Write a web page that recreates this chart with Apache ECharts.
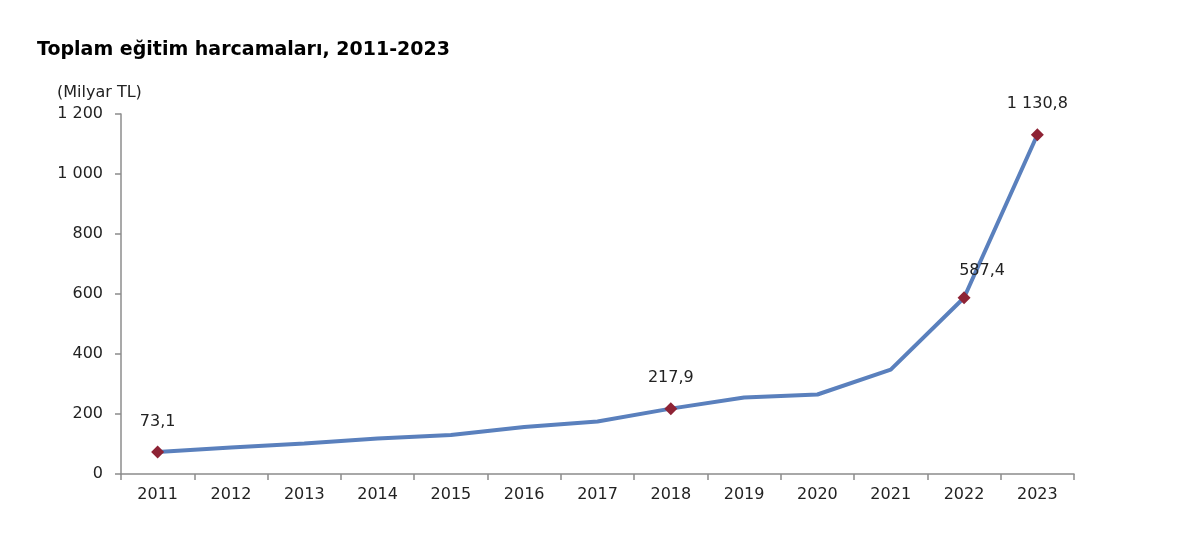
<!DOCTYPE html>
<html>
<head>
<meta charset="utf-8">
<script src="https://cdn.jsdelivr.net/npm/echarts@6/dist/echarts.min.js"></script>
<style>html,body{margin:0;padding:0;background:#fff}#c{width:1200px;height:534px}</style>
</head>
<body>
<div id="c"></div>
<script>
var titleText = 'Toplam eğitim harcamaları, 2011-2023';
var unitText = '(Milyar TL)';
var years = ['2011','2012','2013','2014','2015','2016','2017','2018','2019','2020','2021','2022','2023'];
var values = [73.1, 88, 102, 118, 130, 157, 175, 217.9, 255, 265, 348, 587.4, 1130.8];
var labeledYears = ['2011','2018','2022','2023'];

var FONT = 'DejaVu Sans, Liberation Sans, Arial, sans-serif';

function fmtTR(v, dec) {
  var s = dec ? v.toFixed(1) : String(Math.round(v));
  var parts = s.split('.');
  parts[0] = parts[0].replace(/\B(?=(\d{3})+(?!\d))/g, ' ');
  return parts.join(',');
}

var seriesData = values.map(function (v, i) {
  var show = labeledYears.indexOf(years[i]) >= 0;
  var item = { value: v };
  if (show) {
    item.symbol = 'diamond';
    item.symbolSize = 13;
    item.label = { show: true, offset: years[i] === '2022' ? [18, 4] : [0, 0] };
  } else {
    item.symbol = 'none';
  }
  return item;
});

var chart = echarts.init(document.getElementById('c'));
chart.setOption({
  animation: false,
  backgroundColor: '#ffffff',
  title: [
    { text: titleText, left: 32, top: 36, textStyle: { fontFamily: FONT, fontSize: 19, fontWeight: 'bold', color: '#000' } },
    { text: unitText, left: 52, top: 80, textStyle: { fontFamily: FONT, fontSize: 16, fontWeight: 'normal', color: '#222' } }
  ],
  grid: { left: 121, right: 126, top: 114, bottom: 60, containLabel: false },
  xAxis: {
    type: 'category',
    data: years,
    boundaryGap: true,
    axisLine: { lineStyle: { color: '#8c8c8c', width: 1.5 } },
    axisTick: { show: true, alignWithLabel: false, length: 6, lineStyle: { color: '#8c8c8c', width: 1.5 } },
    axisLabel: { color: '#222', fontSize: 16, fontFamily: FONT, margin: 13 }
  },
  yAxis: {
    type: 'value',
    min: 0, max: 1200, interval: 200,
    axisLine: { show: true, lineStyle: { color: '#8c8c8c', width: 1.5 } },
    axisTick: { show: true, length: 6, lineStyle: { color: '#8c8c8c', width: 1.5 } },
    splitLine: { show: false },
    axisLabel: { color: '#222', fontSize: 16, fontFamily: FONT, margin: 18,
      formatter: function (v) { return fmtTR(v, false); } }
  },
  series: [{
    type: 'line',
    data: seriesData,
    lineStyle: { color: '#5a80bd', width: 4 },
    itemStyle: { color: '#8e2335' },
    label: { show: false, position: 'top', distance: 16, color: '#222', fontSize: 16, fontFamily: FONT,
      formatter: function (p) { return fmtTR(p.value, true); } },
    z: 3
  }]
});
</script>
</body>
</html>
